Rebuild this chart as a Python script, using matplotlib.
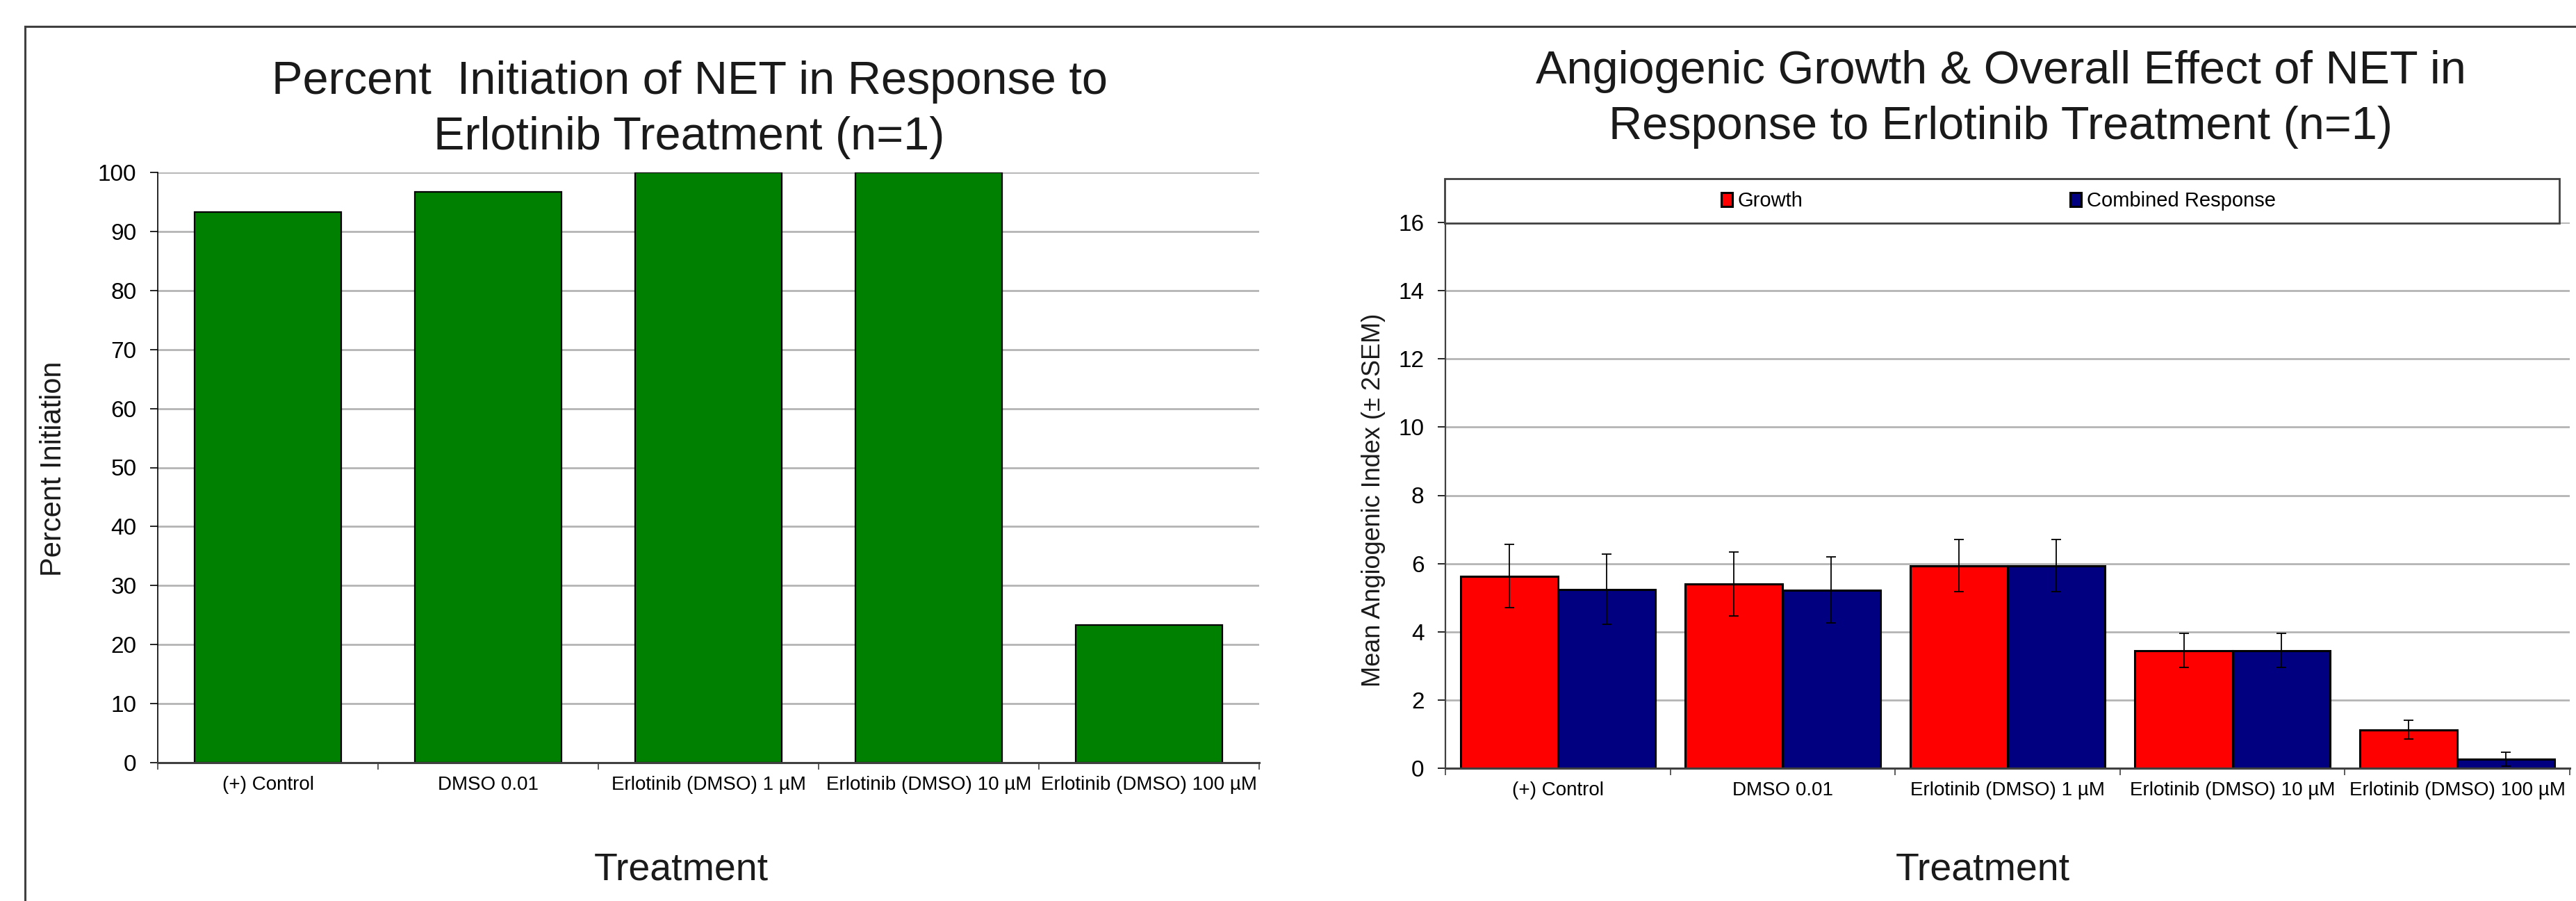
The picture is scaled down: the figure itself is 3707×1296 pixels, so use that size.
import matplotlib.pyplot as plt
import numpy as np
from matplotlib.lines import Line2D
from matplotlib.patches import Rectangle

plt.rcParams['font.family'] = ['Liberation Sans', 'DejaVu Sans']

# data
treatments = ['(+) Control', 'DMSO 0.01', 'Erlotinib (DMSO) 1 µM',
              'Erlotinib (DMSO) 10 µM', 'Erlotinib (DMSO) 100 µM']
percent_initiation = [93.3, 96.7, 100, 100, 23.3]

growth = [5.63, 5.40, 5.94, 3.45, 1.13]
growth_err = [0.93, 0.94, 0.77, 0.50, 0.28]
combined = [5.24, 5.22, 5.94, 3.45, 0.27]
combined_err = [1.03, 0.97, 0.77, 0.50, 0.20]
series_names = ['Growth', 'Combined Response']

W, H = 3707, 1296
fig = plt.figure(figsize=(W / 100, H / 100), dpi=100)

GRID = '#b4b4b4'
AXC = '#404040'


def fx(px):
    return px / W


def fy(py):
    return 1 - py / H


def style_axes(ax, ymax, ystep):
    ax.set_xlim(-0.5, len(treatments) - 0.5)
    ax.set_ylim(0, ymax)
    ax.set_yticks(np.arange(0, ymax + 0.01, ystep))
    ax.set_xticks(range(len(treatments)))
    ax.set_xticklabels(treatments, fontsize=20)
    ax.set_xticks(np.arange(-0.5, len(treatments)), minor=True)
    ax.tick_params(axis='x', which='major', length=0, pad=14)
    ax.tick_params(axis='x', which='minor', length=7, width=1.2, color=AXC, direction='out')
    ax.tick_params(axis='y', length=8, width=1.2, pad=14, labelsize=24, direction='out')
    ax.yaxis.grid(True, color=GRID, linewidth=2)
    ax.set_axisbelow(True)
    for s in ['top', 'right']:
        ax.spines[s].set_visible(False)
    ax.spines['left'].set_color('black')
    ax.spines['left'].set_linewidth(1.2)
    ax.spines['bottom'].set_color(AXC)
    ax.spines['bottom'].set_linewidth(2.2)


# left chart
ax1 = fig.add_axes([fx(227), fy(1097), fx(1812) - fx(227), fy(248) - fy(1097)])
x = np.arange(len(treatments))
ax1.bar(x, percent_initiation, width=0.667, color='#008000', edgecolor='black', linewidth=1.6)
style_axes(ax1, 100, 10)

fig.text(fx(992), fy(135), 'Percent  Initiation of NET in Response to', fontsize=48,
         ha='center', va='baseline', color='#1a1a1a')
fig.text(fx(992), fy(215), 'Erlotinib Treatment (n=1)', fontsize=48,
         ha='center', va='baseline', color='#1a1a1a')
fig.text(fx(77), fy(674), 'Percent Initiation', fontsize=30, rotation=90,
         ha='center', va='center', color='#1a1a1a')
fig.text(fx(980), fy(1265), 'Treatment', fontsize=40, ha='center', va='baseline', color='#1a1a1a')

# right chart
ax2 = fig.add_axes([fx(2080), fy(1105), fx(3698) - fx(2080), fy(320) - fy(1105)])
bw = 0.433
err_kw = dict(ecolor='black', elinewidth=1.3, capsize=5, capthick=1.3)
b1 = ax2.bar(x - bw / 2, growth, width=bw, color='#ff0000', edgecolor='black', linewidth=2.2,
             yerr=growth_err, error_kw=err_kw)
b2 = ax2.bar(x + bw / 2, combined, width=bw, color='#000080', edgecolor='black', linewidth=2.2,
             yerr=combined_err, error_kw=err_kw)
style_axes(ax2, 16, 2)
ax2.spines['left'].set_color(AXC)
ax2.spines['left'].set_linewidth(1.6)

fig.text(fx(2879), fy(120), 'Angiogenic Growth & Overall Effect of NET in', fontsize=48,
         ha='center', va='baseline', color='#1a1a1a')
fig.text(fx(2879), fy(200), 'Response to Erlotinib Treatment (n=1)', fontsize=48,
         ha='center', va='baseline', color='#1a1a1a')
fig.text(fx(1977), fy(719), 'Mean Angiogenic Index (± 2SEM)', fontsize=26, rotation=90,
         ha='center', va='center', color='#1a1a1a')
fig.text(fx(2853), fy(1265), 'Treatment', fontsize=40, ha='center', va='baseline', color='#1a1a1a')

# legend box on top of the plot area
fig.patches.append(Rectangle((fx(2079), fy(321)), fx(3683) - fx(2079), fy(257) - fy(321),
                             transform=fig.transFigure, facecolor='white', edgecolor=AXC,
                             linewidth=2, zorder=5))
leg = fig.legend([b1, b2], series_names, ncol=2, loc='center left',
                 bbox_to_anchor=(fx(2477), fy(289)), frameon=False, fontsize=21,
                 handlelength=0.55, handleheight=0.7, handletextpad=0.25,
                 columnspacing=13.2, borderpad=0, borderaxespad=0)
leg.set_zorder(6)

# outer frame
fig.add_artist(Line2D([fx(36), 1], [fy(38), fy(38)], color=AXC, linewidth=2.2))
fig.add_artist(Line2D([fx(36), fx(36)], [0, fy(38)], color=AXC, linewidth=2.2))

fig.savefig('out.png', dpi=100, facecolor='white')
